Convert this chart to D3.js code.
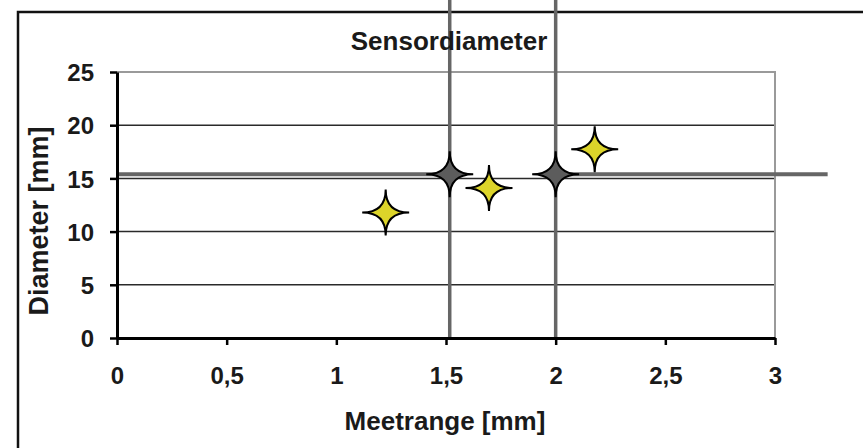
<!DOCTYPE html>
<html>
<head>
<meta charset="utf-8">
<script src="https://cdn.jsdelivr.net/npm/d3@7"></script>
<style>
  html, body { margin: 0; padding: 0; background: #fff; }
  svg { display: block; }
  text { font-family: "Liberation Sans", Arial, sans-serif; font-weight: bold; fill: #1a1a1a; }
</style>
</head>
<body>
<svg id="chart" width="863" height="448"></svg>
<script>
// ---- data ----
const title = "Sensordiameter";
const xTitle = "Meetrange [mm]";
const yTitle = "Diameter [mm]";
const xTicks = [0, 0.5, 1, 1.5, 2, 2.5, 3];
const xTickLabels = ["0", "0,5", "1", "1,5", "2", "2,5", "3"];
const yTicks = [0, 5, 10, 15, 20, 25];
const yTickLabels = ["0", "5", "10", "15", "20", "25"];

// yellow series
const yellowX = [1.225, 1.696, 2.178];
const yellowY = [11.8, 14.1, 17.75];
// grey series with error bars
const greyX = [1.517, 2.0];
const greyY = [15.4, 15.4];
const greyXErrLow = [0, 2.0];
const greyXErrHigh = [1.517, 3.24];
const greyYErrLow = [0, 0];
const greyYErrHigh = [36, 36];

// ---- layout ----
const svg = d3.select("#chart");
const plot = { left: 117, right: 775, top: 72, bottom: 338 };

const x = d3.scaleLinear().domain([0, 3]).range([plot.left, plot.right]);
const y = d3.scaleLinear().domain([0, 25]).range([plot.bottom, plot.top]);

// outer chart border
svg.append("rect")
  .attr("x", 18).attr("y", 12).attr("width", 900).attr("height", 500)
  .attr("fill", "#fff").attr("stroke", "#111").attr("stroke-width", 2.5);

// gridlines
svg.append("g")
  .selectAll("line")
  .data(yTicks.filter(d => d > 0 && d < 25))
  .join("line")
  .attr("x1", plot.left).attr("x2", plot.right)
  .attr("y1", d => y(d)).attr("y2", d => y(d))
  .attr("stroke", "#2a2a2a").attr("stroke-width", 1.5);

// plot area border (top & right)
svg.append("path")
  .attr("d", `M${plot.left},${y(25)}H${x(3)}V${y(0)}`)
  .attr("fill", "none").attr("stroke", "#9a9a9a").attr("stroke-width", 2);

// error bars for grey series
const errG = svg.append("g");
greyX.forEach((gx, i) => {
  errG.append("line")
    .attr("x1", x(greyXErrLow[i])).attr("x2", x(greyXErrHigh[i]))
    .attr("y1", y(greyY[i])).attr("y2", y(greyY[i]))
    .attr("stroke", "#666").attr("stroke-width", 4);
  errG.append("line")
    .attr("x1", x(gx)).attr("x2", x(gx))
    .attr("y1", y(greyYErrLow[i])).attr("y2", y(greyYErrHigh[i]))
    .attr("stroke", "#666").attr("stroke-width", 3.5);
});

// axes
const xAxis = d3.axisBottom(x).tickValues(xTicks)
  .tickFormat((d, i) => xTickLabels[i]).tickSize(7).tickSizeOuter(0).tickPadding(22);
const yAxis = d3.axisLeft(y).tickValues(yTicks)
  .tickFormat((d, i) => yTickLabels[i]).tickSize(7).tickSizeOuter(0).tickPadding(16);

const gx = svg.append("g").attr("transform", `translate(0,${plot.bottom})`).call(xAxis);
const gy = svg.append("g").attr("transform", `translate(${plot.left},0)`).call(yAxis);
[gx, gy].forEach(g => {
  g.select(".domain").attr("stroke", "#000").attr("stroke-width", 3);
  g.selectAll(".tick line").attr("stroke", "#000").attr("stroke-width", 2.5);
  g.selectAll(".tick text")
    .style("font-family", '"Liberation Sans", Arial, sans-serif')
    .style("font-weight", "bold").style("font-size", "24px").attr("fill", "#1a1a1a");
});
gy.selectAll(".tick text").attr("dy", "0.36em");

// star symbol path (4-pointed, concave sides)
function star(rx, ry, k) {
  return `M0,${-ry}Q${k},${-k} ${rx},0Q${k},${k} 0,${ry}Q${-k},${k} ${-rx},0Q${-k},${-k} 0,${-ry}Z`;
}
const starPath = star(23.5, 23, 0);

// grey stars
svg.append("g").selectAll("path")
  .data(greyX.map((d, i) => [d, greyY[i]]))
  .join("path")
  .attr("d", starPath)
  .attr("transform", d => `translate(${x(d[0])},${y(d[1])})`)
  .attr("fill", "#5c5c5c").attr("stroke", "#000").attr("stroke-width", 2)
  .attr("stroke-linejoin", "miter");

// yellow stars
svg.append("g").selectAll("path")
  .data(yellowX.map((d, i) => [d, yellowY[i]]))
  .join("path")
  .attr("d", starPath)
  .attr("transform", d => `translate(${x(d[0])},${y(d[1])})`)
  .attr("fill", "#dcd42a").attr("stroke", "#000").attr("stroke-width", 2)
  .attr("stroke-linejoin", "miter");

// titles
svg.append("text")
  .attr("x", 449).attr("y", 50)
  .attr("text-anchor", "middle")
  .style("font-size", "26px")
  .text(title);

svg.append("text")
  .attr("x", 445).attr("y", 430)
  .attr("text-anchor", "middle")
  .style("font-size", "26px")
  .text(xTitle);

svg.append("text")
  .attr("transform", "translate(48,221) rotate(-90)")
  .attr("text-anchor", "middle")
  .style("font-size", "27px")
  .text(yTitle);
</script>
</body>
</html>
